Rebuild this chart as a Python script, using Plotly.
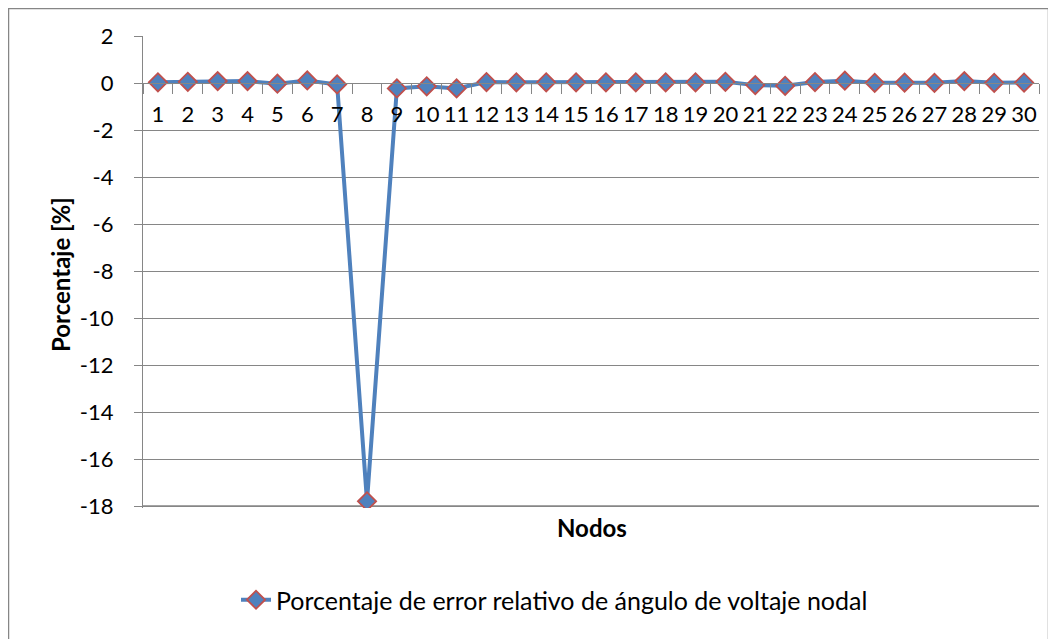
import plotly.graph_objects as go

nodos = [str(i) for i in range(1, 31)]
error_pct = [0.03, 0.05, 0.08, 0.08, -0.03, 0.11, -0.06, -17.8, -0.23, -0.14,
             -0.23, 0.04, 0.03, 0.03, 0.03, 0.03, 0.03, 0.03, 0.03, 0.05,
             -0.09, -0.12, 0.04, 0.10, 0.01, 0.02, 0.01, 0.08, 0.01, 0.02]
y_ticks = list(range(-18, 3, 2))
y_tick_text = [str(v) for v in y_ticks]
series_name = "Porcentaje de error relativo de ángulo de voltaje nodal"

# page has an 8px body margin, so figure coords = page coords - 8
OFF = 8
W, H = 1056 - OFF, 639 - OFF
L, R, T, B = 143 - OFF, 1039 - OFF, 36 - OFF, 508 - OFF
ymin, ymax = -18, 2

def px_x(p):  # page px -> paper
    return (p - OFF - L) / (R - L)

def px_y(p):
    return (B - (p - OFF)) / (B - T)

FONT = "Lato, 'Open Sans', sans-serif"
GRID = "#868686"

fig = go.Figure()
fig.add_trace(go.Scatter(
    x=nodos, y=error_pct, mode="lines+markers", name=series_name,
    line=dict(color="#4F81BD", width=4),
    marker=dict(symbol="diamond", size=14, color="#4F81BD",
                line=dict(color="#C0504D", width=1.8)),
))

eps_lo, eps_hi = 0.085, 0.0
y_lo, y_hi = ymin - eps_lo, ymax + eps_hi
y0_pos = (0 - y_lo) / (y_hi - y_lo)

fig.update_layout(
    width=W, height=H,
    margin=dict(l=L, r=W - R, t=T, b=H - B, autoexpand=False),
    paper_bgcolor="white", plot_bgcolor="white",
    font=dict(family=FONT, size=22, color="black"),
    showlegend=True,
    legend=dict(orientation="h", x=px_x(236), y=px_y(600), xanchor="left",
                yanchor="middle", font=dict(size=25), bgcolor="rgba(0,0,0,0)"),
    xaxis=dict(
        type="category", anchor="free", position=y0_pos,
        showline=True, linecolor=GRID, linewidth=1.3,
        ticks="outside", ticklen=10, tickcolor=GRID, tickwidth=1.3,
        tickson="boundaries", showgrid=False, zeroline=False,
        tickfont=dict(size=22), tickangle=0, ticklabelstandoff=11,
        range=[-0.5, 29.5],
    ),
    yaxis=dict(
        range=[y_lo, y_hi], tickvals=y_ticks, ticktext=y_tick_text,
        showline=True, linecolor=GRID, linewidth=1.3, ticks="outside",
        ticklen=8, tickcolor=GRID, tickwidth=1.3, showgrid=True,
        gridcolor=GRID, gridwidth=1.3, zeroline=False,
        tickfont=dict(size=22), ticklabelstandoff=16,
    ),
    annotations=[
        dict(text="<b>Porcentaje [%]</b>", x=px_x(60), y=px_y(275),
             xref="paper", yref="paper", showarrow=False, textangle=-90,
             xanchor="center", yanchor="middle", font=dict(size=24)),
        dict(text="<b>Nodos</b>", x=px_x(592), y=px_y(527),
             xref="paper", yref="paper", showarrow=False,
             xanchor="center", yanchor="middle", font=dict(size=24)),
    ],
    shapes=[
        dict(type="rect", xref="paper", yref="paper",
             x0=px_x(8.5), x1=px_x(1048.5), y0=px_y(8.5), y1=px_y(660),
             line=dict(color=GRID, width=1.5), layer="below"),
        dict(type="line", xref="paper", yref="y", x0=0, x1=1,
             y0=ymin, y1=ymin, line=dict(color=GRID, width=1.5),
             layer="below"),
    ],
)

fig.write_html("out.html")
